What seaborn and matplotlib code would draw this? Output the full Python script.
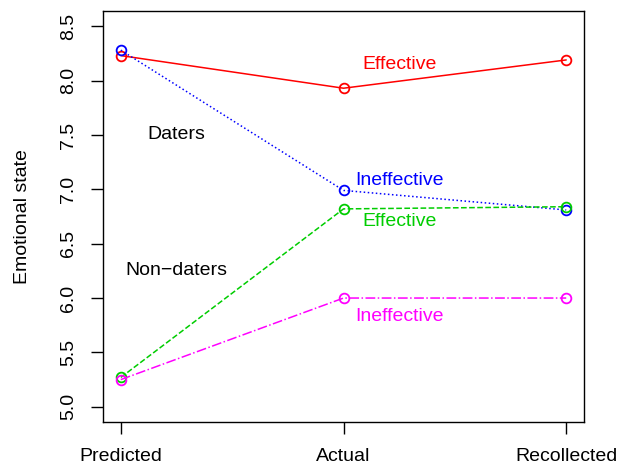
import pandas as pd
import matplotlib
matplotlib.use("Agg")
import matplotlib.pyplot as plt
import seaborn as sns

# data
conditions = ["Predicted", "Actual", "Recollected"]
daters_effective = [8.23, 7.93, 8.19]
daters_ineffective = [8.28, 6.99, 6.81]
nondaters_effective = [5.27, 6.82, 6.84]
nondaters_ineffective = [5.25, 6.00, 6.00]

series_names = ["Daters Effective", "Daters Ineffective",
                "Non-daters Effective", "Non-daters Ineffective"]
series_values = [daters_effective, daters_ineffective,
                 nondaters_effective, nondaters_ineffective]
colors = ["#FF0000", "#0000FF", "#00CD00", "#FF00FF"]
dashes = ["-", ":", "--", "-."]
labels = ["Effective", "Ineffective", "Effective", "Ineffective"]
label_y = [8.15, 7.08, 6.70, 5.83]

rows = []
for name, vals in zip(series_names, series_values):
    for i, v in enumerate(vals):
        rows.append({"series": name, "pos": i + 1, "value": v})
df = pd.DataFrame(rows)

sns.set_style("white")
plt.rcParams["font.family"] = ["Liberation Sans", "DejaVu Sans"]
plt.rcParams["text.color"] = "black"
plt.rcParams["axes.labelcolor"] = "black"
plt.rcParams["xtick.color"] = "black"
plt.rcParams["ytick.color"] = "black"

fs = 14
fig = plt.figure(figsize=(6.29, 4.67), dpi=100)
ax = fig.add_axes([0.1638, 0.0964, 0.7647, 0.88])

for name, col, ls in zip(series_names, colors, dashes):
    sub = df[df["series"] == name]
    sns.lineplot(data=sub, x="pos", y="value", ax=ax, color=col,
                 linestyle=ls, linewidth=1.1, marker="o", markersize=7,
                 markerfacecolor="none", markeredgecolor=col,
                 markeredgewidth=1.3)

for txt, col, y in zip(labels, colors, label_y):
    ax.text(2.25, y, txt, color=col, fontsize=fs, ha="center", va="center")
ax.text(1.25, 7.5, "Daters", fontsize=fs, ha="center", va="center")
ax.text(1.25, 6.25, "Non\u2212daters", fontsize=fs, ha="center", va="center")

ax.set_xlim(0.92, 3.08)
ax.set_ylim(4.86, 8.64)
ax.set_xticks([1, 2, 3])
ax.set_xticklabels(conditions)
yt = [5.0, 5.5, 6.0, 6.5, 7.0, 7.5, 8.0, 8.5]
ax.set_yticks(yt)
ax.set_yticklabels([f"{v:.1f}" for v in yt], rotation=90, va="center")
ax.set_xlabel("")
ax.set_ylabel("Emotional state", fontsize=fs, labelpad=21)
ax.tick_params(axis="both", direction="out", length=8.5, width=1,
               labelsize=fs, left=True, bottom=True)
ax.tick_params(axis="y", pad=10)
ax.tick_params(axis="x", pad=10)
for s in ax.spines.values():
    s.set_color("black")
    s.set_linewidth(1)

fig.savefig("out.png", dpi=100)
